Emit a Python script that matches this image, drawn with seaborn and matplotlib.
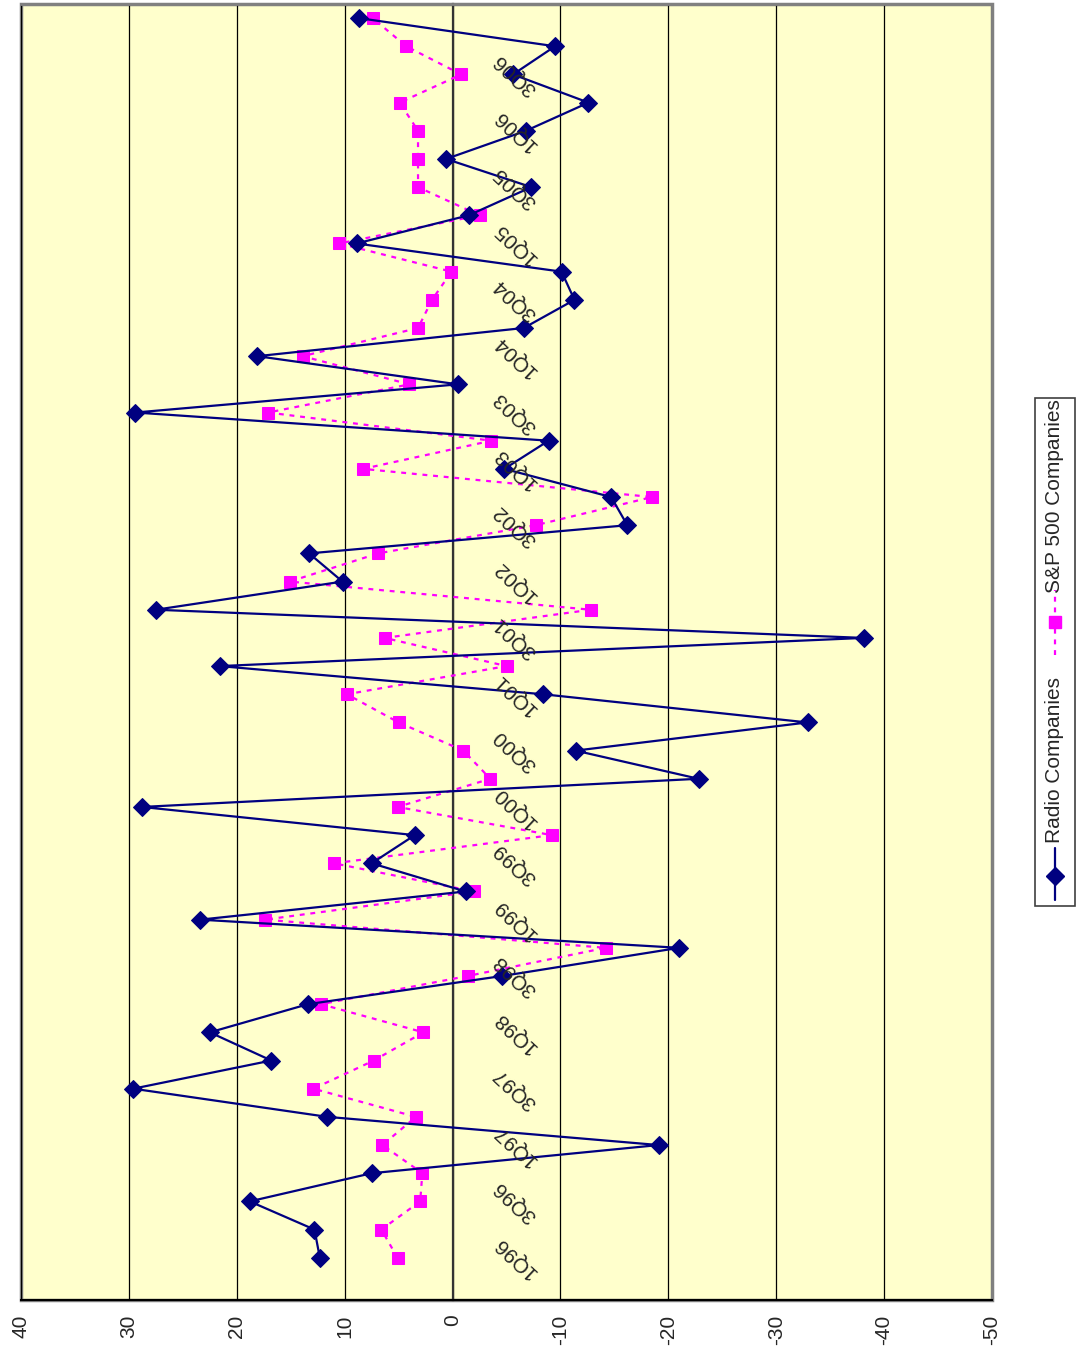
import pandas as pd
import matplotlib.pyplot as plt
import seaborn as sns
from matplotlib import font_manager
from matplotlib.patches import Rectangle
from matplotlib.lines import Line2D

# quarters 1Q96 .. 1Q07 (bottom to top in the rotated chart)
quarters = [f"{q}Q{y % 100:02d}" for y in range(1996, 2008) for q in range(1, 5)][:45]

radio = [12.3, 12.8, 18.8, 7.5, -19.1, 11.6, 29.6, 16.8, 22.5, 13.4,
         -4.6, -21.0, 23.4, -1.2, 7.5, 3.5, 28.8, -22.8, -11.4, -32.9,
         -8.4, 21.6, -38.1, 27.5, 10.2, 13.3, -16.2, -14.7, -4.8, -8.9,
         29.4, -0.5, 18.1, -6.6, -11.3, -10.1, 8.9, -1.5, -7.3, 0.6,
         -6.8, -12.6, -5.6, -9.5, 8.7]

sp500 = [5.1, 6.6, 3.0, 2.8, 6.5, 3.4, 12.9, 7.3, 2.7, 12.2,
         -1.4, -14.2, 17.4, -2.0, 11.0, -9.2, 5.1, -3.5, -1.0, 5.0,
         9.8, -5.0, 6.3, -12.8, 15.1, 6.9, -7.7, -18.5, 8.3, -3.6,
         17.1, 4.0, 13.9, 3.2, 1.9, 0.1, 10.5, -2.5, 3.2, 3.2,
         3.2, 4.9, -0.8, 4.3, 7.4]

value_ticks = [40, 30, 20, 10, 0, -10, -20, -30, -40, -50]
series_names = ["Radio Companies", "S&P 500 Companies"]

sns.set_style("white")
names = {f.name for f in font_manager.fontManager.ttflist}
fam = "Liberation Sans Narrow" if "Liberation Sans Narrow" in names else "Liberation Sans"
fs = 18 if fam == "Liberation Sans Narrow" else 15
plt.rcParams["font.family"] = [fam, "DejaVu Sans"]
plt.rcParams["axes.unicode_minus"] = False

NAVY = "#000080"
MAG = "#FF00FF"
GRAY = "#808080"

df = pd.DataFrame({"pos": range(len(quarters)), "quarter": quarters,
                   "radio": radio, "sp500": sp500})

fig = plt.figure(figsize=(10.77, 13.53), dpi=100)
ax = fig.add_axes([21 / 1077, 53 / 1353, 971 / 1077, 1296 / 1353])
ax.set_facecolor("#FFFFCC")

# gridlines at every 10
for v in value_ticks:
    ax.axvline(v, color="black", lw=0.9, zorder=1)

sns.lineplot(data=df, x="sp500", y="pos", orient="y", ax=ax, color=MAG,
             lw=1.6, linestyle=(0, (2.2, 2.6)), marker="s", markersize=9,
             markeredgecolor=MAG, zorder=3)
sns.lineplot(data=df, x="radio", y="pos", orient="y", ax=ax, color=NAVY,
             lw=1.6, marker="D", markersize=9.5, markeredgecolor=NAVY, zorder=4)

ax.set_xlim(40, -50)
ax.set_ylim(-1.5, len(quarters) - 0.5)
ax.set_xticks(value_ticks)
ax.set_xticklabels([str(v) for v in value_ticks], rotation=90, fontsize=fs)
ax.tick_params(axis="x", direction="out", length=4.5, width=1, color="black", pad=6)
ax.set_xlabel("")
ax.set_ylabel("")

# category axis sits at value 0
ax.spines["left"].set_position(("data", 0))
ax.spines["left"].set_color("#333333")
ax.spines["left"].set_linewidth(1.6)
ax.set_yticks([i - 0.5 for i in range(len(quarters) + 1)])
ax.tick_params(axis="y", direction="in", length=5.5, width=1, color="#333333", labelleft=False)

for s in ["top", "right"]:
    ax.spines[s].set_color(GRAY)
    ax.spines[s].set_linewidth(2)
ax.spines["bottom"].set_color("black")
ax.spines["bottom"].set_linewidth(1.5)
ax.add_patch(Rectangle((0, 0), 1, 1, transform=ax.transAxes, fill=False,
                       edgecolor=GRAY, lw=2.5, zorder=0.5, clip_on=False))

for i in range(0, len(quarters) - 1, 2):
    ax.annotate(quarters[i], xy=(0, i), xytext=(45, 0), textcoords="offset points",
                rotation=137, rotation_mode="anchor", ha="center", va="center",
                fontsize=fs, zorder=5)

# rotated legend on the right
def fx(px):
    return px / 1077

def fy(py):
    return 1 - py / 1353

fig.add_artist(Rectangle((fx(1035), fy(906)), fx(1075) - fx(1035), fy(398) - fy(906),
                         transform=fig.transFigure, fill=False, edgecolor="#404040", lw=1.2))
fig.add_artist(Line2D([fx(1055), fx(1055)], [fy(900), fy(848)], transform=fig.transFigure,
                      color=NAVY, lw=1.6))
fig.add_artist(Line2D([fx(1055)], [fy(876)], transform=fig.transFigure, color=NAVY,
                      marker="D", markersize=9.5, markeredgecolor=NAVY))
fig.text(fx(1055), fy(760), series_names[0], rotation=90, ha="center", va="center", fontsize=fs)
fig.add_artist(Line2D([fx(1055), fx(1055)], [fy(655), fy(590)], transform=fig.transFigure,
                      color=MAG, lw=1.6, linestyle=(0, (2.2, 2.6))))
fig.add_artist(Line2D([fx(1055)], [fy(622)], transform=fig.transFigure, color=MAG,
                      marker="s", markersize=9, markeredgecolor=MAG))
fig.text(fx(1055), fy(496), series_names[1], rotation=90, ha="center", va="center", fontsize=fs)

fig.savefig("out.png", dpi=100)
